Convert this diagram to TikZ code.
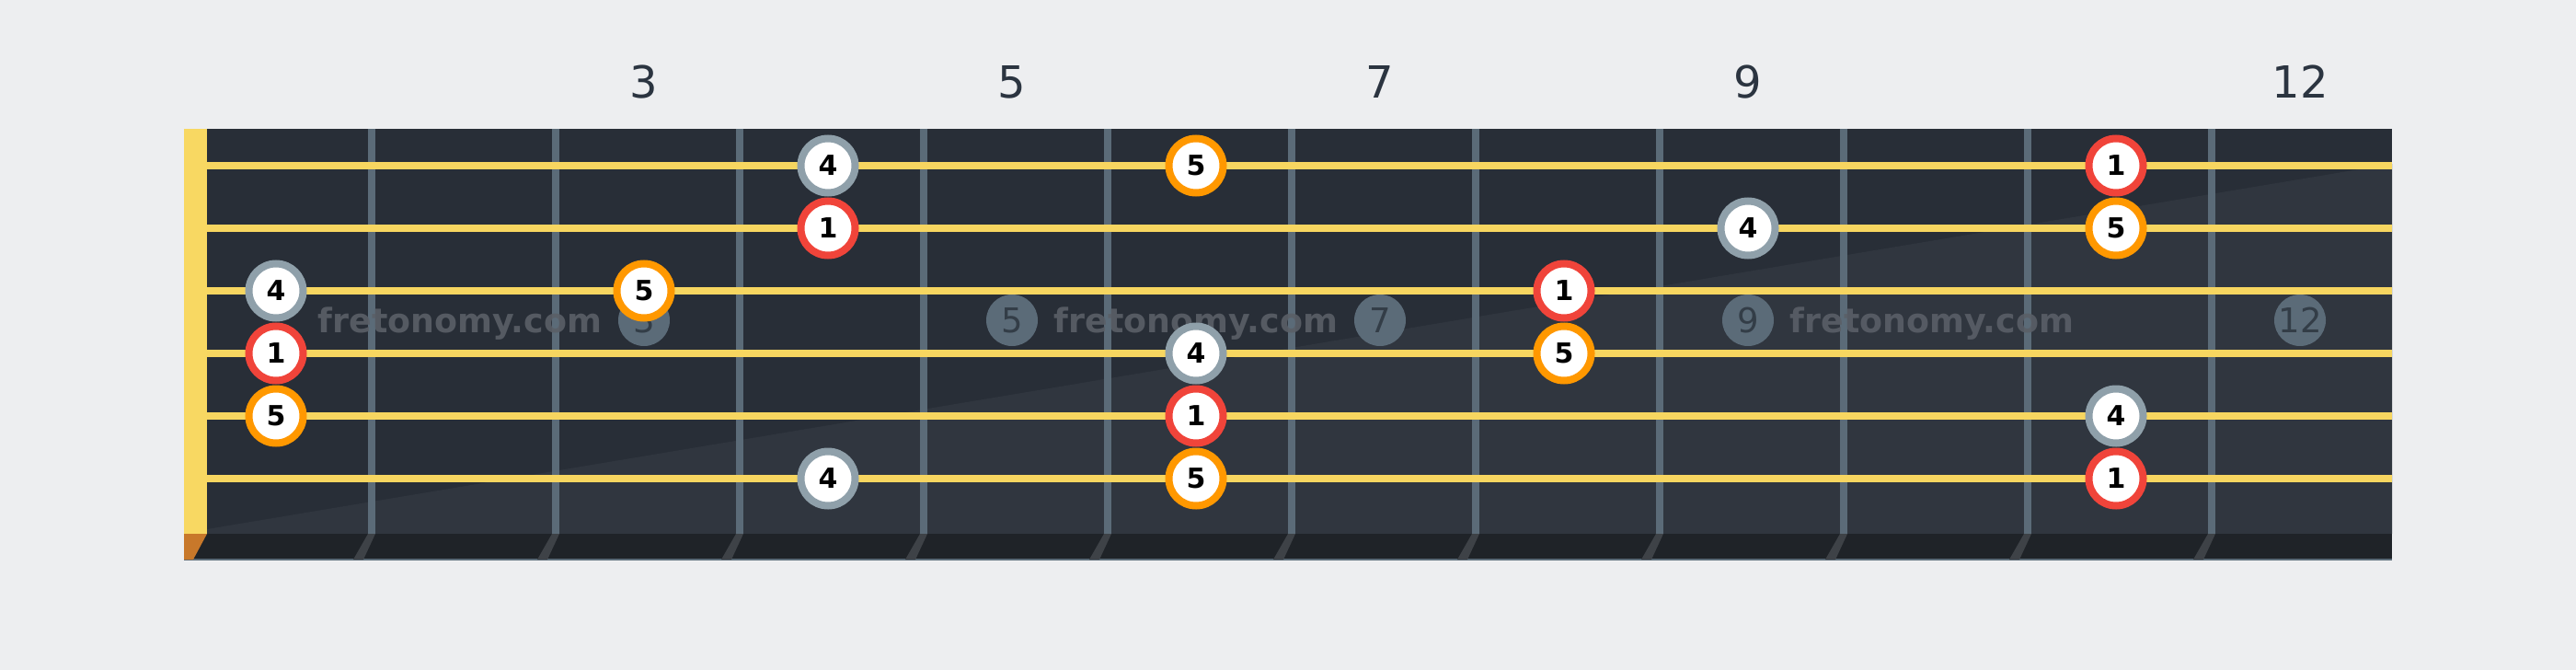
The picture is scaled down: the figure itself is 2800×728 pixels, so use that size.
\documentclass[tikz,border=0pt]{standalone}
\usepackage{fontspec}
\setmainfont{DejaVu Sans}
\definecolor{bgc}{HTML}{EDEEF0}
\definecolor{boardc}{HTML}{282E37}
\definecolor{boardlc}{HTML}{30363F}
\definecolor{fretc}{HTML}{5B6B78}
\definecolor{stringc}{HTML}{F7D660}
\definecolor{nutc}{HTML}{F8D862}
\definecolor{stripc}{HTML}{1F2328}
\definecolor{fretextc}{HTML}{3E4247}
\definecolor{nutextc}{HTML}{C8782A}
\definecolor{inlayc}{HTML}{5B6B78}
\definecolor{inlaytc}{HTML}{333D47}
\definecolor{fretnumc}{HTML}{2B3440}
\definecolor{wmc}{HTML}{5A5F67}
\definecolor{grayring}{HTML}{8FA0AA}
\definecolor{redring}{HTML}{F0443A}
\definecolor{orangering}{HTML}{FF9800}
\begin{document}
\begin{tikzpicture}[x=0.5pt,y=-0.5pt,
  fnote/.style={circle, fill=white, draw=#1, line width=4pt, minimum size=29.5pt, inner sep=0pt,
    font=\bfseries\fontsize{15pt}{15pt}\selectfont, text=black},
  fretnum/.style={inner sep=0pt, text=fretnumc, font=\fontsize{24pt}{24pt}\selectfont},
  inlay/.style={circle, fill=inlayc, minimum size=28pt, inner sep=0pt, text=inlaytc,
    font=\fontsize{18.5pt}{18.5pt}\selectfont},
  wmark/.style={inner sep=0pt, text=wmc, opacity=0.9, font=\bfseries\fontsize{18.2pt}{18.2pt}\selectfont}]
% background and bounding box
\fill[bgc] (0,0) rectangle (2800,728);
\useasboundingbox (0,0) rectangle (2800,728);
% board
\fill[boardc] (200,140) rectangle (2600,580);
\fill[boardlc] (225,575) -- (2600,178) -- (2600,580) -- (225,580) -- cycle;
% bottom strip
\fill[stripc] (200,580) rectangle (2600,608);
\fill[fretc] (200,607) rectangle (2600,609);
% frets
\foreach \k in {0,...,10} {
  \fill[fretc] ({400+200*\k},140) rectangle ({408+200*\k},580);
  \fill[fretextc] ({400+200*\k},580) -- ({408+200*\k},580) -- ({395+200*\k},608) -- ({384+200*\k},608) -- cycle;
}
% nut
\fill[nutc] (200,140) rectangle (225,580);
\fill[nutextc] (200,580) -- (225,580) -- (210,608) -- (200,608) -- cycle;
% strings
\foreach \y in {180,248,316,384,452,520}
  \fill[stringc] (225,\y-4) rectangle (2600,\y+4);
% fret numbers
\node[fretnum] (n3) at (700,89) {3};
\node[fretnum] (n5) at (1100,89) {5};
\node[fretnum] (n7) at (1500,89) {7};
\node[fretnum] (n9) at (1900,89) {9};
\node[fretnum] (n12) at (2500,89) {12};
% inlays
\node[inlay] (i3) at (700,348) {3};
\node[inlay] (i5) at (1100,348) {5};
\node[inlay] (i7) at (1500,348) {7};
\node[inlay] (i9) at (1900,348) {9};
\node[inlay] (i12) at (2500,348) {12};
% watermarks
\node[wmark] (w1) at (500,352) {fretonomy.com};
\node[wmark] (w2) at (1300,352) {fretonomy.com};
\node[wmark] (w3) at (2100,352) {fretonomy.com};
% notes string 1
\node[fnote=grayring] (a1) at (900,180) {4};
\node[fnote=orangering] (a2) at (1300,180) {5};
\node[fnote=redring] (a3) at (2300,180) {1};
% string 2
\node[fnote=redring] (b1) at (900,248) {1};
\node[fnote=grayring] (b2) at (1900,248) {4};
\node[fnote=orangering] (b3) at (2300,248) {5};
% string 3
\node[fnote=grayring] (c1) at (300,316) {4};
\node[fnote=orangering] (c2) at (700,316) {5};
\node[fnote=redring] (c3) at (1700,316) {1};
% string 4
\node[fnote=redring] (d1) at (300,384) {1};
\node[fnote=grayring] (d2) at (1300,384) {4};
\node[fnote=orangering] (d3) at (1700,384) {5};
% string 5
\node[fnote=orangering] (e1) at (300,452) {5};
\node[fnote=redring] (e2) at (1300,452) {1};
\node[fnote=grayring] (e3) at (2300,452) {4};
% string 6
\node[fnote=grayring] (f1) at (900,520) {4};
\node[fnote=orangering] (f2) at (1300,520) {5};
\node[fnote=redring] (f3) at (2300,520) {1};
\end{tikzpicture}
\end{document}
